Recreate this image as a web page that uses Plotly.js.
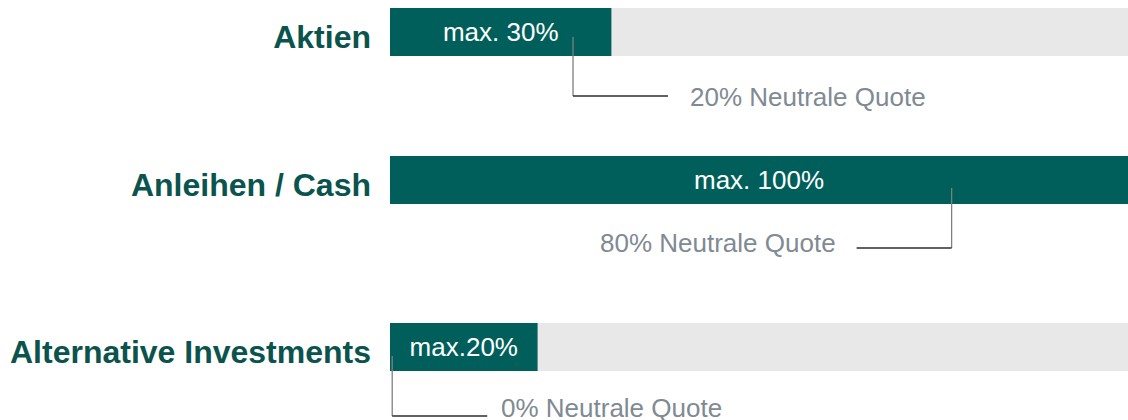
<!DOCTYPE html>
<html>
<head>
<meta charset="utf-8">
<script src="https://cdn.plot.ly/plotly-3.0.1.min.js"></script>
<style>
  html, body { margin: 0; padding: 0; background: #ffffff; }
  #chart { width: 1128px; height: 420px; }
</style>
</head>
<body>
<div id="chart"></div>
<script>
// ---- data ----
const categories = ["Aktien", "Anleihen / Cash", "Alternative Investments"];
const maxValues = [30, 100, 20];
const maxLabels = ["max. 30%", "max. 100%", "max.20%"];
const fullScale = [100, 100, 100];
const neutralLabels = ["20% Neutrale Quote", "80% Neutrale Quote", "0% Neutrale Quote"];
const neutralMarkerPos = [24.8, 76.1, 0.3];   // where the connector leaves the bar

// ---- layout constants (pixels) ----
const W = 1128, H = 420, BAR_H = 48;
const rowTopPx = [8, 156, 323];
const lineTopPx = [37, 188, 356];
const lineBotPx = [96, 248, 416];
const textMidPx = [97, 243, 408];
const side = [1, -1, 1];
const hLen = 95;
const textGap = [20, 19, 12];

const GREEN = "#005f5a";
const LABEL_GREEN = "#0b534d";
const GREY_BG = "#e8e8e8";
const NEUTRAL_TXT = "#808a93";
const FONT = "Liberation Sans, Arial, sans-serif";

const py = p => 1 - p / H;
const yName = i => i === 0 ? "y" : "y" + (i + 1);
const yKey = i => i === 0 ? "yaxis" : "yaxis" + (i + 1);

const traces = [];
const layout = {
  width: W, height: H,
  margin: {l: 390, r: 0, t: 0, b: 0, pad: 0},
  paper_bgcolor: "#ffffff", plot_bgcolor: "#ffffff",
  showlegend: false,
  barmode: "overlay",
  xaxis: {range: [0, 100], visible: false, domain: [0, 1], fixedrange: true, anchor: "y"},
  shapes: [], annotations: []
};

categories.forEach((cat, i) => {
  traces.push({
    type: "bar", orientation: "h",
    x: [fullScale[i]], y: [cat], width: 1,
    xaxis: "x", yaxis: yName(i),
    marker: {color: GREY_BG, line: {width: 0}},
    hoverinfo: "skip"
  });
  traces.push({
    type: "bar", orientation: "h",
    x: [maxValues[i]], y: [cat], width: 1,
    xaxis: "x", yaxis: yName(i),
    marker: {color: GREEN, line: {width: 0}},
    text: [maxLabels[i]], textposition: "inside", insidetextanchor: "middle",
    textfont: {color: "#ffffff", size: 26, family: FONT},
    constraintext: "none", cliponaxis: false,
    hoverinfo: "skip"
  });
  layout[yKey(i)] = {
    type: "category",
    domain: [1 - (rowTopPx[i] + BAR_H) / H, 1 - rowTopPx[i] / H],
    range: [-0.5, 0.5],
    anchor: "x",
    showgrid: false, zeroline: false, showline: false,
    ticks: "", ticklen: 0,
    ticklabelstandoff: 18,
    ticklabelshift: 5,
    tickfont: {family: FONT, size: 32, color: LABEL_GREEN, weight: "bold"},
    fixedrange: true
  };
  // vertical connector
  layout.shapes.push({
    type: "line", xref: "x", yref: "paper",
    x0: neutralMarkerPos[i], x1: neutralMarkerPos[i],
    y0: py(lineTopPx[i]), y1: py(lineBotPx[i]),
    line: {color: "#7f7f7f", width: 1.3}, layer: "above"
  });
  // horizontal connector
  layout.shapes.push({
    type: "line", xref: "x", yref: "paper",
    xsizemode: "pixel", xanchor: neutralMarkerPos[i],
    x0: 0, x1: side[i] * hLen,
    y0: py(lineBotPx[i]), y1: py(lineBotPx[i]),
    line: {color: "#2e2e2e", width: 1.6}, layer: "above"
  });
  layout.annotations.push({
    xref: "x", yref: "paper",
    x: neutralMarkerPos[i], y: py(textMidPx[i]),
    xshift: side[i] * (hLen + textGap[i]),
    xanchor: side[i] > 0 ? "left" : "right", yanchor: "middle",
    text: neutralLabels[i], showarrow: false,
    font: {family: FONT, size: 26, color: NEUTRAL_TXT}
  });
});

Plotly.newPlot("chart", traces, layout, {displayModeBar: false, staticPlot: true});
</script>
</body>
</html>
